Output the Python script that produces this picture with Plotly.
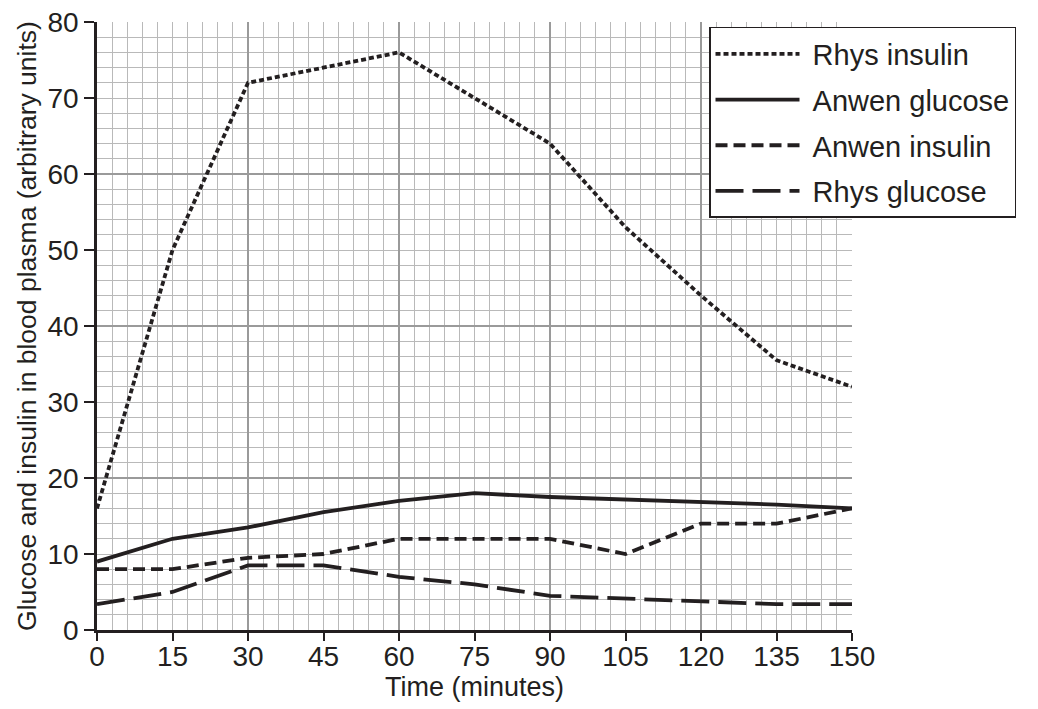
import plotly.graph_objects as go

time_min = [0, 15, 30, 45, 60, 75, 90, 105, 120, 135, 150]
rhys_insulin = [16, 50, 72, 74, 76, 70, 64, 53, 44, 35.5, 32]
anwen_glucose = [9, 12, 13.5, 15.5, 17, 18, 17.5, 17.2, 16.9, 16.5, 16]
anwen_insulin = [8, 8, 9.5, 10, 12, 12, 12, 10, 14, 14, 16]
rhys_glucose = [3.4, 5, 8.5, 8.5, 7, 6, 4.5, 4.1, 3.7, 3.4, 3.4]

x_ticks = [0, 15, 30, 45, 60, 75, 90, 105, 120, 135, 150]
y_ticks = [0, 10, 20, 30, 40, 50, 60, 70, 80]

FONT = "Arial, Liberation Sans, sans-serif"
INK = "#231f20"
LIGHT = "#b9b9b9"
DARK = "#9a9a9a"

series = [
    ("Rhys insulin", rhys_insulin, "5px,3px"),
    ("Anwen glucose", anwen_glucose, "solid"),
    ("Anwen insulin", anwen_insulin, "12px,6px"),
    ("Rhys glucose", rhys_glucose, "28px,9px"),
]

fig = go.Figure()
for name, vals, dash in series:
    fig.add_trace(go.Scatter(
        x=time_min, y=vals, mode="lines", name="\u00a0" + name, legendgroup=name,
        line=dict(color=INK, width=3.8, dash=dash),
    ))

# invisible trace to anchor the major-grid overlay axes
fig.add_trace(go.Scatter(x=[0, 150], y=[0, 80], xaxis="x2", yaxis="y2",
                         mode="markers", marker=dict(opacity=0),
                         showlegend=False, hoverinfo="skip"))

# page body has an 8px default margin, so the figure is sized to fit inside it
fig.update_layout(
    width=1030, height=701,
    margin=dict(l=89, r=186, t=14, b=79, autoexpand=False),
    paper_bgcolor="white", plot_bgcolor="white",
    font=dict(family=FONT, size=28, color=INK),
    xaxis=dict(
        range=[0, 150], tickvals=x_ticks, ticks="outside", ticklen=8,
        tickwidth=2, tickcolor=INK, showline=True, linecolor=INK, linewidth=2.5,
        showgrid=True, gridcolor=LIGHT, gridwidth=1.3, zeroline=False,
        minor=dict(dtick=3, showgrid=True, gridcolor=LIGHT, gridwidth=1.3),
        title=dict(text="Time (minutes)", standoff=2, font=dict(size=27)),
        tickfont=dict(size=28), fixedrange=True, automargin=False,
        ticklabelstandoff=-8, ticklabeloverflow="allow",
    ),
    yaxis=dict(
        range=[0, 80], tickvals=y_ticks, ticks="outside", ticklen=10,
        tickwidth=2, tickcolor=INK, showline=True, linecolor=INK, linewidth=2.5,
        showgrid=True, gridcolor=LIGHT, gridwidth=1.3, zeroline=False,
        minor=dict(dtick=2, showgrid=True, gridcolor=LIGHT, gridwidth=1.3),
        title=dict(text="Glucose and insulin in blood plasma (arbitrary units)",
                   standoff=4, font=dict(size=26.5)),
        tickfont=dict(size=28), fixedrange=True, automargin=False,
        ticklabeloverflow="allow",
    ),
    xaxis2=dict(range=[0, 150], overlaying="x", dtick=30, showgrid=True,
                gridcolor=DARK, gridwidth=2.2, showticklabels=False, ticks="",
                zeroline=False, showline=False, automargin=False),
    yaxis2=dict(range=[0, 80], overlaying="y", dtick=20, showgrid=True,
                gridcolor=DARK, gridwidth=2.2, showticklabels=False, ticks="",
                zeroline=False, showline=False, automargin=False),
    legend=dict(
        x=0.8106, y=0.9918, xanchor="left", yanchor="top",
        bgcolor="white", bordercolor=INK, borderwidth=1.5,
        font=dict(size=29, family=FONT, color=INK),
        itemwidth=84, tracegroupgap=5, traceorder="grouped",
        entrywidth=330,
    ),
)

fig.write_html("out.html")
